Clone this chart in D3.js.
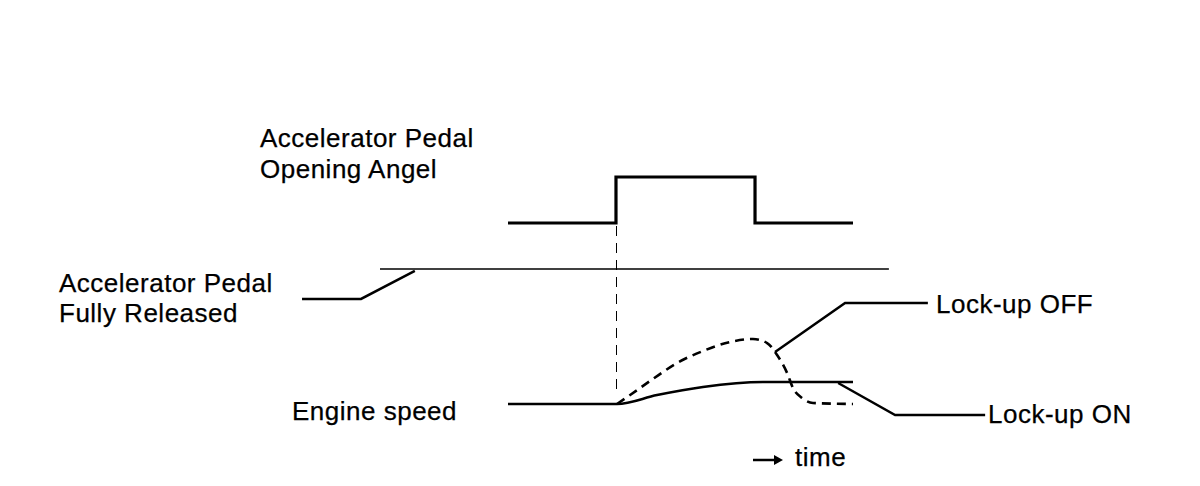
<!DOCTYPE html>
<html>
<head>
<meta charset="utf-8">
<script src="https://cdn.jsdelivr.net/npm/d3@7"></script>
<style>
  body { margin: 0; background: #fff; }
  text { font-family: "Liberation Sans", Arial, sans-serif; font-size: 26px; letter-spacing: 0.5px; fill: #000; stroke: #000; stroke-width: 0.25px; }
</style>
</head>
<body>
<svg id="chart"></svg>
<script>
// time runs 0..10, pedal and engine speed are in relative units
var pedalTimes = [0, 3.13, 3.13, 7.16, 7.16, 10];
var pedalValues = [0, 0, 1, 1, 0, 0];

var speedOnTimes = [0, 3.16, 4.32, 5.65, 7.39, 10];
var speedOnValues = [0, 0, 0.136, 0.258, 0.333, 0.333];

var speedOffTimes = [3.16, 3.54, 4.20, 4.90, 5.65, 6.43, 7.10, 7.51, 7.80, 8.09, 8.26, 8.52, 8.84, 10];
var speedOffValues = [0, 0.136, 0.379, 0.621, 0.803, 0.939, 0.985, 0.924, 0.742, 0.470, 0.242, 0.091, 0.015, 0];

var releasedLevel = -1.0;
var releasedFrom = -3.71, releasedTo = 11.04;

// leader lines [t, value]
var leaderReleased = [[-5.97, -1.65], [-4.26, -1.65], [-2.70, -1.04]];
var leaderOff = [[7.74, 0.788], [9.77, 1.53], [12.17, 1.53]];
var leaderOn = [[9.57, 0.318], [11.22, -0.167], [13.83, -0.167]];

var labels = [
  {text: "Accelerator Pedal", x: 260, y: 147},
  {text: "Opening Angel", x: 260, y: 178},
  {text: "Accelerator Pedal", x: 59, y: 292},
  {text: "Fully Released", x: 59, y: 322},
  {text: "Engine speed", x: 292, y: 420},
  {text: "Lock-up OFF", x: 936, y: 313},
  {text: "Lock-up ON", x: 988, y: 423},
  {text: "time", x: 795, y: 466}
];

var width = 1200, height = 486;

var svg = d3.select("#chart")
  .attr("width", width)
  .attr("height", height);

var x = d3.scaleLinear().domain([0, 10]).range([508, 853]);
var yPedal = d3.scaleLinear().domain([0, 1]).range([223, 177]);
var ySpeed = d3.scaleLinear().domain([0, 1]).range([404, 338]);

function zip(ts, vs) {
  return ts.map(function(t, i) { return [t, vs[i]]; });
}

var pedalLine = d3.line()
  .x(function(d) { return x(d[0]); })
  .y(function(d) { return yPedal(d[1]); });

var speedLine = d3.line()
  .x(function(d) { return x(d[0]); })
  .y(function(d) { return ySpeed(d[1]); })
  .curve(d3.curveMonotoneX);

var speedLeader = d3.line()
  .x(function(d) { return x(d[0]); })
  .y(function(d) { return ySpeed(d[1]); });

// timing marker at pedal step
var stepX = Math.round(x(pedalTimes[1])) + 0.5;
svg.append("line")
  .attr("x1", stepX).attr("x2", stepX)
  .attr("y1", yPedal(0) + 3).attr("y2", ySpeed(0.18))
  .attr("stroke", "#000").attr("stroke-width", 1)
  .attr("stroke-dasharray", "10,7");

// fully released level
svg.append("line")
  .attr("x1", x(releasedFrom)).attr("x2", x(releasedTo))
  .attr("y1", yPedal(releasedLevel)).attr("y2", yPedal(releasedLevel))
  .attr("stroke", "#000").attr("stroke-width", 1.5);

svg.append("path")
  .attr("d", pedalLine(leaderReleased))
  .attr("fill", "none").attr("stroke", "#000").attr("stroke-width", 2.5);

svg.append("path")
  .attr("d", pedalLine(zip(pedalTimes, pedalValues)))
  .attr("fill", "none").attr("stroke", "#000").attr("stroke-width", 3.2)
  .attr("stroke-linejoin", "miter");

svg.append("path")
  .attr("d", speedLine(zip(speedOffTimes, speedOffValues)))
  .attr("fill", "none").attr("stroke", "#000").attr("stroke-width", 2.6)
  .attr("stroke-dasharray", "9,6");

svg.append("path")
  .attr("d", speedLine(zip(speedOnTimes, speedOnValues)))
  .attr("fill", "none").attr("stroke", "#000").attr("stroke-width", 2.6);

svg.append("path")
  .attr("d", speedLeader(leaderOff))
  .attr("fill", "none").attr("stroke", "#000").attr("stroke-width", 2.5);

svg.append("path")
  .attr("d", speedLeader(leaderOn))
  .attr("fill", "none").attr("stroke", "#000").attr("stroke-width", 2.5);

// time arrow
svg.append("line")
  .attr("x1", 753).attr("x2", 776).attr("y1", 460).attr("y2", 460)
  .attr("stroke", "#000").attr("stroke-width", 2.5);
svg.append("path")
  .attr("d", "M774,455 L783,460 L774,465 Z")
  .attr("fill", "#000");

svg.selectAll("text.label")
  .data(labels)
  .enter()
  .append("text")
  .attr("class", "label")
  .attr("x", function(d) { return d.x; })
  .attr("y", function(d) { return d.y; })
  .text(function(d) { return d.text; });
</script>
</body>
</html>
